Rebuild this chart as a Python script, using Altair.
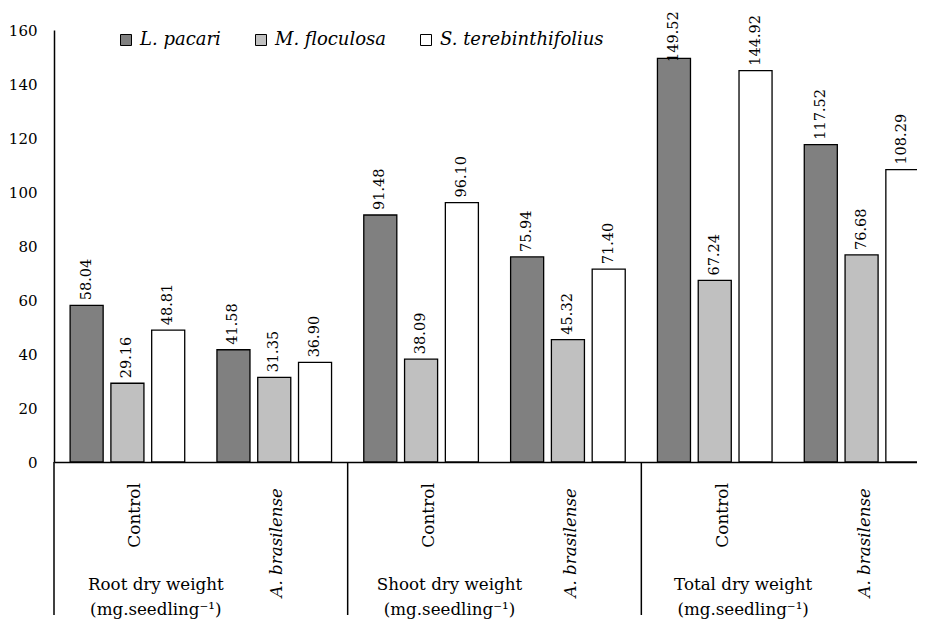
import altair as alt
import pandas as pd

groups = ["Root dry weight", "Shoot dry weight", "Total dry weight"]
units = "(mg.seedling⁻¹)"
treatments = ["Control", "A. brasilense"]
species = ["L. pacari", "M. floculosa", "S. terebinthifolius"]
colors = ["#808080", "#c0c0c0", "#ffffff"]

# values in order: Root-Control, Root-A.bras, Shoot-Control, Shoot-A.bras, Total-Control, Total-A.bras
l_pacari = [58.04, 41.58, 91.48, 75.94, 149.52, 117.52]
m_floculosa = [29.16, 31.35, 38.09, 45.32, 67.24, 76.68]
s_tereb = [48.81, 36.90, 96.10, 71.40, 144.92, 108.29]
series = [l_pacari, m_floculosa, s_tereb]

rows = []
keys = []
for gi, g in enumerate(groups):
    for ti, t in enumerate(treatments):
        k = f"{g}|{t}"
        keys.append(k)
        for si, sp in enumerate(species):
            rows.append({
                "key": k, "group": g, "treatment": t, "species": sp,
                "value": series[si][gi * 2 + ti],
                "glabel": g + "\n" + units,
            })
df = pd.DataFrame(rows)

FONT = "DejaVu Serif"

x_scale = alt.Scale(paddingInner=0, paddingOuter=0, range=[0, 881])
x_enc = alt.X("key:N", sort=keys, title=None, scale=x_scale,
              axis=alt.Axis(labels=False, ticks=False, title=None, grid=False,
                            domainColor="black", domainWidth=1.5))
xoff = alt.XOffset("species:N", sort=species,
                   scale=alt.Scale(paddingInner=0.19, paddingOuter=0.395))

base = alt.Chart(df)

bars = base.mark_bar(stroke="black", strokeWidth=1.3).encode(
    x=x_enc,
    xOffset=xoff,
    y=alt.Y("value:Q", scale=alt.Scale(domain=[0, 160]), title=None,
            axis=alt.Axis(values=list(range(0, 161, 20)), ticks=False, tickSize=0,
                          grid=False, domainColor="black", domainWidth=1.5,
                          labelFont=FONT, labelFontSize=15, labelColor="black",
                          labelPadding=17)),
    fill=alt.Fill("species:N", sort=species,
                  scale=alt.Scale(domain=species, range=colors),
                  legend=alt.Legend(orient="none", legendX=63, legendY=1,
                                    direction="horizontal", title=None,
                                    symbolType="square", symbolSize=121,
                                    symbolStrokeColor="black", symbolStrokeWidth=1,
                                    labelFont=FONT, labelFontSize=18,
                                    labelFontStyle="italic", labelColor="black",
                                    labelLimit=400,
                                    columnPadding=31, labelOffset=5, padding=0)),
)

value_labels = base.transform_calculate(
    lbl="min(datum.value, 146.3)"
).mark_text(angle=270, align="left", baseline="middle", dx=5,
            font=FONT, fontSize=14.5, color="black").encode(
    x=x_enc,
    xOffset=xoff,
    y=alt.Y("lbl:Q"),
    text=alt.Text("value:Q", format=".2f"),
)

one = base.transform_filter("datum.species == 'L. pacari'")

ctrl_labels = one.transform_filter("datum.treatment == 'Control'").mark_text(
    angle=270, align="right", baseline="middle", dy=8,
    font=FONT, fontSize=17, color="black").encode(
    x=x_enc, y=alt.value(453), text="treatment:N")

abras_labels = one.transform_filter("datum.treatment == 'A. brasilense'").mark_text(
    angle=270, align="right", baseline="middle", dy=3,
    font=FONT, fontSize=16.7, fontStyle="italic", color="black").encode(
    x=x_enc, y=alt.value(458), text="treatment:N")

group_labels = one.transform_filter("datum.treatment == 'Control'").mark_text(
    align="center", baseline="alphabetic", dx=-45, lineBreak="\n", lineHeight=25,
    font=FONT, fontSize=16.7, color="black").encode(
    x=alt.X("key:N", sort=keys, bandPosition=1, scale=x_scale),
    y=alt.value(560), text="glabel:N")

separators = one.transform_filter("datum.treatment == 'Control'").mark_rule(
    color="black", strokeWidth=1.5).encode(
    x=alt.X("key:N", sort=keys, bandPosition=0, scale=x_scale),
    y=alt.value(432), y2=alt.value(585))

chart = alt.layer(
    bars, value_labels, ctrl_labels, abras_labels, group_labels, separators
).properties(
    width=863, height=432,
    autosize=alt.AutoSizeParams(type="none"),
    padding={"left": 46, "top": 22, "right": 0, "bottom": 157},
    background="white",
).configure_view(stroke=None)

chart.save("out.html", embed_options={"renderer": "svg", "actions": False})
